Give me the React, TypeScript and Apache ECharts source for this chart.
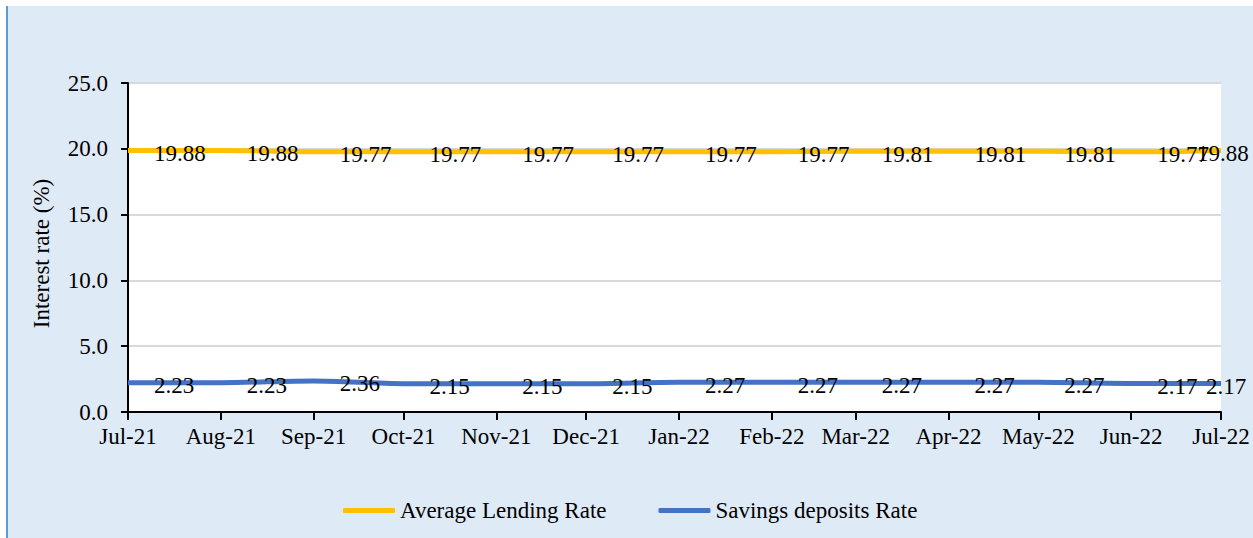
import React, { useEffect, useRef } from "react";
import * as echarts from "echarts";

const months = ["Jul-21", "Aug-21", "Sep-21", "Oct-21", "Nov-21", "Dec-21", "Jan-22", "Feb-22", "Mar-22", "Apr-22", "May-22", "Jun-22", "Jul-22"];
const lendingRate = [19.88, 19.88, 19.77, 19.77, 19.77, 19.77, 19.77, 19.77, 19.81, 19.81, 19.81, 19.77, 19.88];
const savingsRate = [2.23, 2.23, 2.36, 2.15, 2.15, 2.15, 2.27, 2.27, 2.27, 2.27, 2.27, 2.17, 2.17];
const yTickLabels = ["0.0", "5.0", "10.0", "15.0", "20.0", "25.0"];

const monthTimes = months.map((_, i) => Date.UTC(2021, 6 + i, 1));
const FONT = "'Liberation Serif', 'Times New Roman', serif";
const FS = 23;

export default function App() {
  const ref = useRef<HTMLDivElement>(null);
  useEffect(() => {
    if (!ref.current) return;
    const chart = echarts.init(ref.current, null, { renderer: "svg" });
    const mkData = (vals: number[], lastDist: number) =>
      vals.map((v, i) => {
        const item: any = { value: [monthTimes[i], v] };
        if (i === vals.length - 1) {
          item.label = { distance: lastDist };
        }
        return item;
      });
    const labelStyle = {
      show: true,
      position: "right",
      distance: 26,
      offset: [0, 3],
      color: "#000",
      fontFamily: FONT,
      fontSize: FS,
    };
    chart.setOption({
      animation: false,
      textStyle: { fontFamily: FONT },
      graphic: [
        { type: "rect", shape: { x: 6, y: 6, width: 1253, height: 540 }, style: { fill: "#DEEBF7" }, z: -10 },
        { type: "rect", shape: { x: 6, y: 6, width: 2, height: 540 }, style: { fill: "#5B9BD5" }, z: -9 },
      ],
      grid: {
        left: 128,
        right: 32,
        top: 83,
        bottom: 126,
        show: true,
        backgroundColor: "#fff",
        borderWidth: 0,
      },
      legend: {
        left: 338,
        top: 494,
        itemWidth: 52,
        itemHeight: 5,
        itemGap: 52,
        icon: "roundRect",
        textStyle: { fontFamily: FONT, fontSize: FS, color: "#000" },
        data: ["Average Lending Rate", "Savings deposits Rate"],
      },
      xAxis: {
        type: "value",
        min: monthTimes[0],
        max: monthTimes[monthTimes.length - 1],
        splitLine: { show: false },
        axisLine: { show: true, lineStyle: { color: "#000", width: 2 } },
        axisTick: { show: true, customValues: monthTimes, length: 8, lineStyle: { color: "#000", width: 2 } },
        axisLabel: {
          customValues: monthTimes,
          margin: 13,
          color: "#000",
          fontFamily: FONT,
          fontSize: FS,
          formatter: (v: number) => {
            const idx = monthTimes.indexOf(v);
            return idx >= 0 ? months[idx] : "";
          },
        },
      },
      yAxis: {
        type: "value",
        min: 0,
        max: 25,
        interval: 5,
        name: "Interest rate (%)",
        nameLocation: "middle",
        nameGap: 75,
        nameTextStyle: { fontFamily: FONT, fontSize: FS, color: "#000", padding: [0, 12, 0, 0] },
        axisLine: { show: true, lineStyle: { color: "#000", width: 2 } },
        axisTick: { show: true, length: 7, lineStyle: { color: "#000", width: 2 } },
        splitLine: { show: true, lineStyle: { color: "#D9D9D9", width: 2 } },
        axisLabel: {
          margin: 20,
          color: "#000",
          fontFamily: FONT,
          fontSize: FS,
          formatter: (v: number) => yTickLabels[Math.round(v / 5)] ?? "",
        },
      },
      series: [
        {
          name: "Average Lending Rate",
          type: "line",
          smooth: 0.3,
          symbol: "circle",
          symbolSize: 0,
          showSymbol: true,
          lineStyle: { color: "#FFC000", width: 5 },
          itemStyle: { color: "#FFC000" },
          label: labelStyle,
          data: mkData(lendingRate, -24),
        },
        {
          name: "Savings deposits Rate",
          type: "line",
          smooth: 0.3,
          symbol: "circle",
          symbolSize: 0,
          showSymbol: true,
          lineStyle: { color: "#4472C4", width: 5 },
          itemStyle: { color: "#4472C4" },
          label: labelStyle,
          data: mkData(savingsRate, -15),
        },
      ],
    });
    return () => chart.dispose();
  }, []);
  return (
    <div
      ref={ref}
      style={{ position: "absolute", left: 0, top: 0, width: 1253, height: 538, background: "#fff" }}
    />
  );
}
